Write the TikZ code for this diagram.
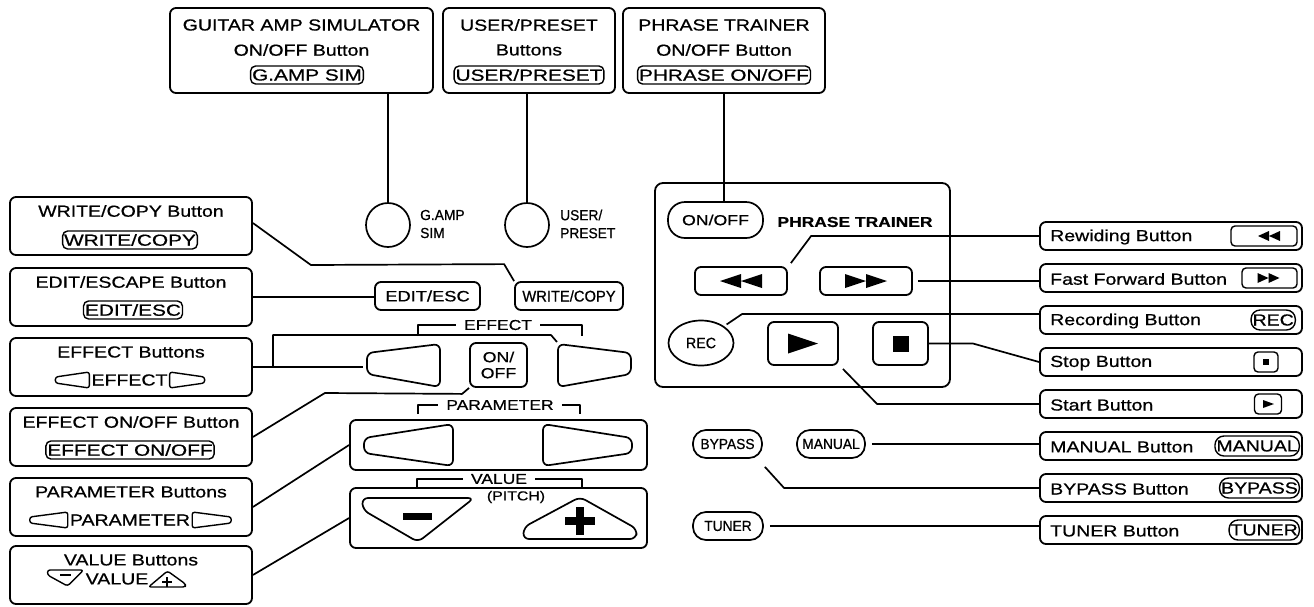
\documentclass[tikz,border=0pt]{standalone}
\usepackage{fontspec}
\setmainfont{Liberation Sans}
\newfontfamily\labfont[FakeStretch=1.22,FakeBold=0.7]{Liberation Sans}
\newfontfamily\keyfont[FakeStretch=1.3,FakeBold=0.7]{Liberation Sans}
\newfontfamily\panfont[FakeStretch=0.95,FakeBold=0.7]{Liberation Sans}
\usetikzlibrary{calc,shapes.geometric}
\begin{document}
\begin{tikzpicture}[x=1pt,y=-1pt,line join=round,
  lbox/.style={draw,line width=1.8pt,rounded corners=6pt,inner sep=0pt},
  ttl/.style={font=\labfont\fontsize{16}{17}\selectfont,inner sep=0pt},
  rtl/.style={font=\labfont\fontsize{16}{17}\selectfont,inner sep=0pt,anchor=west},
  key/.style={draw,line width=1.4pt,rounded corners=5pt,inner sep=1.5pt,font=\keyfont\fontsize{16}{17}\selectfont,minimum height=18pt},
  rkey/.style={draw,line width=1.4pt,rounded corners=6pt,inner sep=1.5pt,font=\labfont\fontsize{16}{17}\selectfont,minimum height=20pt,anchor=east},
  ikey/.style={draw,line width=1.4pt,rounded corners=4pt,inner sep=0pt},
  conn/.style={line width=1.7pt},
  btn/.style={draw,line width=1.8pt,rounded corners=6pt,inner sep=0pt},
  pill/.style={draw,line width=1.7pt,rounded corners=13pt,inner sep=0pt,font=\panfont\fontsize{14.5}{15}\selectfont},
  shp/.style={draw,line width=1.7pt,rounded corners=6pt},
  small/.style={draw,line width=1.4pt,rounded corners=2.5pt},
  brk/.style={line width=1.5pt},
  plab/.style={font=\labfont\fontsize{14.3}{15}\selectfont,inner sep=0pt}
]
\useasboundingbox[fill=white] (0,0) rectangle (1314,606);

% ---------- top label boxes ----------
\node[lbox,minimum width=263pt,minimum height=85pt] (tb1) at (301.5,50.5) {};
\node[ttl] (tb1a) at (301.5,25) {GUITAR AMP SIMULATOR};
\node[ttl] (tb1b) at (301.5,50) {ON/OFF Button};
\node[key] (tb1c) at (307,75) {G.AMP SIM};
\node[lbox,minimum width=172pt,minimum height=85pt] (tb2) at (529,50.5) {};
\node[ttl] (tb2a) at (529,25) {USER/PRESET};
\node[ttl] (tb2b) at (529,50) {Buttons};
\node[key] (tb2c) at (529,75) {USER/PRESET};
\node[lbox,minimum width=202pt,minimum height=85pt] (tb3) at (724,50.5) {};
\node[ttl] (tb3a) at (724,25) {PHRASE TRAINER};
\node[ttl] (tb3b) at (724,50) {ON/OFF Button};
\node[key] (tb3c) at (724,75) {PHRASE ON/OFF};

% ---------- circles ----------
\node[draw,circle,line width=1.7pt,minimum size=44pt,inner sep=0pt] (gamp) at (388,225) {};
\node[font=\panfont\fontsize{14.5}{18}\selectfont,align=left,anchor=west,inner sep=0pt] (gampl) at (420,224) {G.AMP\\SIM};
\node[draw,circle,line width=1.7pt,minimum size=44pt,inner sep=0pt] (userc) at (527,225) {};
\node[font=\panfont\fontsize{14.5}{18}\selectfont,align=left,anchor=west,inner sep=0pt] (userl) at (560,224) {USER/\\PRESET};

% ---------- centre panel ----------
\node[btn,minimum width=105pt,minimum height=28pt,font=\labfont\fontsize{15}{15}\selectfont] (editb) at (427.5,296) {EDIT/ESC};
\node[btn,minimum width=108pt,minimum height=28pt,font=\panfont\fontsize{15.5}{16}\selectfont] (writeb) at (569,296) {WRITE/COPY};

\node[plab] (efflab) at (498,325) {EFFECT};
\draw[brk] (418,336) -- (418,325) -- ($(efflab.west)+(-8,0)$);
\draw[brk] ($(efflab.east)+(8,0)$) -- (582,325) -- (582,336);
\draw[shp] (440,344) -- (440,387) -- (367,374) -- (367,353) -- cycle;
\draw[shp] (558,344) -- (558,387) -- (631,374) -- (631,353) -- cycle;
\coordinate (effLtip) at (363,367);
\coordinate (effRtl) at (557,342);
\node[btn,minimum width=57pt,minimum height=44pt,align=center,font=\labfont\fontsize{14.5}{16}\selectfont] (effon) at (498.5,365) {ON/\\OFF};

\node[lbox,minimum width=297pt,minimum height=50pt] (parpanel) at (498.5,445) {};
\node[plab] (parlab) at (500,405) {PARAMETER};
\draw[brk] (418,414) -- (418,405) -- ($(parlab.west)+(-8,0)$);
\draw[brk] ($(parlab.east)+(8,0)$) -- (580,405) -- (580,414);
\draw[shp] (453,424) -- (453,466) -- (364,453) -- (364,438) -- cycle;
\draw[shp] (543,424) -- (543,466) -- (632,453) -- (632,438) -- cycle;

\node[lbox,minimum width=297pt,minimum height=60pt] (valpanel) at (498.5,518) {};
\node[plab] (vallab) at (499,479) {VALUE};
\node[font=\labfont\fontsize{13}{13}\selectfont,inner sep=0pt] (pitch) at (516,497) {(PITCH)};
\draw[brk] (417,488) -- (417,479) -- ($(vallab.west)+(-8,0)$);
\draw[brk] ($(vallab.east)+(8,0)$) -- (582,479) -- (582,488);
\draw[shp] (362,498) -- (474,498) -- (418,542) -- (363,510) -- cycle;
\fill (403,513) rectangle (432,520);
\draw[shp] (523,539) -- (524,527) -- (580,497) -- (637,529) -- (636,539) -- cycle;
\fill (565,517) rectangle (595,525);
\fill (576,507) rectangle (584,535);

% ---------- phrase trainer panel ----------
\node[lbox,rounded corners=8pt,minimum width=295pt,minimum height=204pt] (ptpanel) at (802.5,285) {};
\node[pill,rounded corners=17pt,minimum width=95pt,minimum height=36pt,font=\labfont\fontsize{14.5}{15}\selectfont] (pton) at (715.5,220) {ON/OFF};
\node[font=\labfont\bfseries\fontsize{14.3}{15}\selectfont,inner sep=0pt] (ptlab) at (855,222) {PHRASE TRAINER};
\node[btn,minimum width=92pt,minimum height=28pt] (rew) at (741,281) {};
\fill[shift={(rew.center)}] (-21,0) -- (0,-7) -- (0,7) -- cycle (0,0) -- (21,-7) -- (21,7) -- cycle;
\node[btn,minimum width=92pt,minimum height=28pt] (ff) at (866,281) {};
\fill[shift={(ff.center)}] (-21,-7) -- (0,0) -- (-21,7) -- cycle (0,-7) -- (21,0) -- (0,7) -- cycle;
\node[draw,ellipse,line width=1.7pt,minimum width=65pt,minimum height=45pt,inner sep=0pt,font=\panfont\fontsize{15}{15}\selectfont] (rec) at (701,343) {REC};
\node[btn,minimum width=70pt,minimum height=43pt] (play) at (803,343.5) {};
\fill[shift={(play.center)}] (-15,-10) -- (15,0) -- (-15,10) -- cycle;
\node[btn,minimum width=55pt,minimum height=43pt] (stop) at (900.5,343.5) {};
\fill[shift={(stop.center)}] (-8,-8) rectangle (8,8);

\node[pill,minimum width=69pt,minimum height=28pt] (bypass) at (727.5,444) {BYPASS};
\node[pill,minimum width=68pt,minimum height=28pt] (manual) at (831,444) {MANUAL};
\node[pill,minimum width=70pt,minimum height=28pt] (tuner) at (728,526) {TUNER};

% ---------- left column ----------
\node[lbox,minimum width=242pt,minimum height=58pt] (wcbox) at (131,226) {};
\node[ttl] (wca) at (131,211) {WRITE/COPY Button};
\node[key] (wcb) at (130,240) {WRITE/COPY};

\node[lbox,minimum width=242pt,minimum height=58pt] (edbox) at (131,297) {};
\node[ttl] (eda) at (131,282) {EDIT/ESCAPE Button};
\node[key] (edb) at (133,310) {EDIT/ESC};

\node[lbox,minimum width=242pt,minimum height=58pt] (efbox) at (131,367) {};
\node[ttl] (efa) at (131,352) {EFFECT Buttons};
\node[ttl] (efb) at (129.5,380) {EFFECT};
\draw[small] ($(efb.west)+(-2,-8)$) -- ($(efb.west)+(-2,8)$) -- ($(efb.west)+(-36,3)$) -- ($(efb.west)+(-36,-3)$) -- cycle;
\draw[small] ($(efb.east)+(2,-8)$) -- ($(efb.east)+(2,8)$) -- ($(efb.east)+(37,3)$) -- ($(efb.east)+(37,-3)$) -- cycle;

\node[lbox,minimum width=242pt,minimum height=58pt] (eobox) at (131,437) {};
\node[ttl] (eoa) at (131,422) {EFFECT ON/OFF Button};
\node[key] (eob) at (130,450) {EFFECT ON/OFF};

\node[lbox,minimum width=242pt,minimum height=58pt] (pabox) at (131,507) {};
\node[ttl] (paa) at (131,492) {PARAMETER Buttons};
\node[ttl] (pab) at (130,520) {PARAMETER};
\draw[small] ($(pab.west)+(-2,-8)$) -- ($(pab.west)+(-2,8)$) -- ($(pab.west)+(-40,3)$) -- ($(pab.west)+(-40,-3)$) -- cycle;
\draw[small] ($(pab.east)+(2,-8)$) -- ($(pab.east)+(2,8)$) -- ($(pab.east)+(41,3)$) -- ($(pab.east)+(41,-3)$) -- cycle;

\node[lbox,minimum width=242pt,minimum height=58pt] (vabox) at (131,575) {};
\node[ttl] (vaa) at (131,560) {VALUE Buttons};
\node[ttl] (vab) at (117,579) {VALUE};
\draw[small] ($(vab.west)+(-38,-9)$) -- ($(vab.west)+(-2,-9)$) -- ($(vab.west)+(-18,7)$) -- ($(vab.west)+(-38,-4)$) -- cycle;
\fill ($(vab.west)+(-26,-5)$) rectangle ($(vab.west)+(-15,-3)$);
\draw[small] ($(vab.east)+(0,8)$) -- ($(vab.east)+(19,-8)$) -- ($(vab.east)+(37,5)$) -- ($(vab.east)+(37,8)$) -- cycle;
\fill ($(vab.east)+(14,2)$) rectangle ($(vab.east)+(24,4)$);
\fill ($(vab.east)+(18,-2)$) rectangle ($(vab.east)+(20,8)$);

% ---------- right column ----------
\node[lbox,minimum width=262pt,minimum height=28pt] (rwbox) at (1171,236) {};
\node[rtl] (rwa) at (1050,237) {Rewiding Button};
\node[ikey,minimum width=66pt,minimum height=20pt] (rwk) at (1264,236) {};
\fill[shift={(rwk.center)}] (-6,0) -- (5,-5) -- (5,5) -- cycle (5,0) -- (16,-5) -- (16,5) -- cycle;

\node[lbox,minimum width=262pt,minimum height=28pt] (ffbox) at (1171,278) {};
\node[rtl] (ffa) at (1050,279) {Fast Forward Button};
\node[ikey,minimum width=55pt,minimum height=20pt] (ffk) at (1269.5,278) {};
\fill[shift={(ffk.center)}] (-12,-5) -- (-1,0) -- (-12,5) -- cycle (-1,-5) -- (10,0) -- (-1,5) -- cycle;

\node[lbox,minimum width=262pt,minimum height=28pt] (rcbox) at (1171,320) {};
\node[rtl] (rca) at (1050,321) {Recording Button};
\node[rkey,rounded corners=9pt] (rck) at (1296,320) {REC};

\node[lbox,minimum width=262pt,minimum height=28pt] (stbox) at (1171,362) {};
\node[rtl] (sta) at (1050,363) {Stop Button};
\node[ikey,minimum width=24pt,minimum height=20pt] (stk) at (1266,362) {};
\fill[shift={(stk.center)}] (-3,-3) rectangle (3,3);

\node[lbox,minimum width=262pt,minimum height=28pt] (sabox) at (1171,404) {};
\node[rtl] (saa) at (1050,405) {Start Button};
\node[ikey,minimum width=27pt,minimum height=20pt] (sak) at (1268,404) {};
\fill[shift={(sak.center)}] (-5,-4) -- (6,0) -- (-5,4) -- cycle;

\node[lbox,minimum width=262pt,minimum height=28pt] (mnbox) at (1171,446) {};
\node[rtl] (mna) at (1050,447) {MANUAL Button};
\node[rkey,rounded corners=9pt] (mnk) at (1300,446) {MANUAL};

\node[lbox,minimum width=262pt,minimum height=28pt] (bpbox) at (1171,488) {};
\node[rtl] (bpa) at (1050,489) {BYPASS Button};
\node[rkey,rounded corners=9pt] (bpk) at (1300,488) {BYPASS};

\node[lbox,minimum width=262pt,minimum height=28pt] (tnbox) at (1171,530) {};
\node[rtl] (tna) at (1050,531) {TUNER Button};
\node[rkey,rounded corners=9pt] (tnk) at (1300,530) {TUNER};

% ---------- connectors ----------
\draw[line width=1.3pt] (tb1.south -| gamp) -- (gamp.north);
\draw[line width=1.3pt] (tb2.south -| userc) -- (userc.north);
\draw[line width=1.3pt] (tb3.south) -- (tb3.south |- pton.north);

\draw[conn] ($(wcbox.east)+(0,-3)$) -- ($(wcbox.east)+(58,39)$) -- ($(writeb.north west)+(-10,-17)$) -- (writeb.north west);
\draw[conn] (edbox.east) -- (edbox.east -| editb.west);
\draw[conn] (efbox.east) -- (effLtip);
\draw[conn] ($(efbox.east)+(20,0)$) -- ($(efbox.east)+(20,-32)$) -- ($(effRtl)+(-6,-7)$) -- (effRtl);
\draw[conn] (eobox.east) -- ($(eobox.east)+(72,-44)$) -- ($(effon.south west)+(-7,6)$) -- (effon.south west);
\draw[conn] (pabox.east) -- (parpanel.west);
\draw[conn] (vabox.east) -- (valpanel.west);

\draw[conn] ($(rew.north east)+(3,-3)$) -- ($(rwbox.west)+(-228,0)$) -- (rwbox.west);
\draw[conn] ($(ff.east)+(5,0)$) -- (ff.east -| ffbox.west);
\draw[conn] ($(rec.north east)+(2,-2)$) -- ($(rcbox.west)+(-297,-6)$) -- ($(rcbox.west)+(0,-6)$);
\draw[conn] (stop.east) -- ($(stop.east)+(44,0)$) -- (stbox.west);
\draw[conn] ($(play.south east)+(4,3)$) -- ($(sabox.west)+(-162,0)$) -- (sabox.west);
\draw[conn] ($(manual.east)+(6,0)$) -- (manual.east -| mnbox.west);
\draw[conn] ($(bypass.south east)+(2,8)$) -- ($(bpbox.west)+(-255,0)$) -- (bpbox.west);
\draw[conn] ($(tuner.east)+(6,0)$) -- (tuner.east -| tnbox.west);
\end{tikzpicture}
\end{document}
